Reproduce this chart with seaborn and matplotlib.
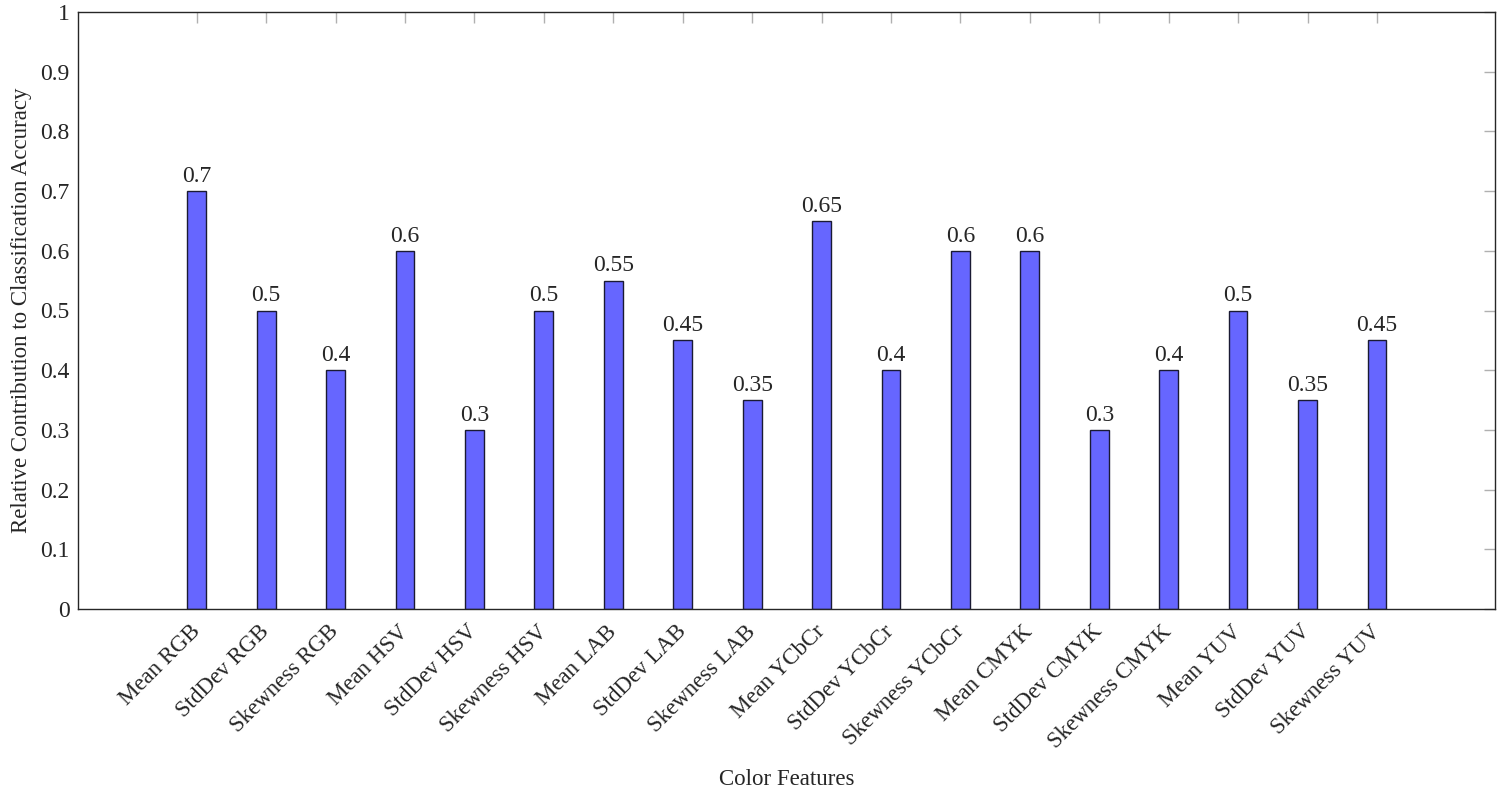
import matplotlib
matplotlib.use("Agg")
import matplotlib.pyplot as plt
import seaborn as sns
import pandas as pd

features = ['Mean RGB', 'StdDev RGB', 'Skewness RGB',
            'Mean HSV', 'StdDev HSV', 'Skewness HSV',
            'Mean LAB', 'StdDev LAB', 'Skewness LAB',
            'Mean YCbCr', 'StdDev YCbCr', 'Skewness YCbCr',
            'Mean CMYK', 'StdDev CMYK', 'Skewness CMYK',
            'Mean YUV', 'StdDev YUV', 'Skewness YUV']
contribution = [0.7, 0.5, 0.4,
                0.6, 0.3, 0.5,
                0.55, 0.45, 0.35,
                0.65, 0.4, 0.6,
                0.6, 0.3, 0.4,
                0.5, 0.35, 0.45]
labels = ['0.7', '0.5', '0.4', '0.6', '0.3', '0.5', '0.55', '0.45', '0.35',
          '0.65', '0.4', '0.6', '0.6', '0.3', '0.4', '0.5', '0.35', '0.45']
yticks = [0, 0.1, 0.2, 0.3, 0.4, 0.5, 0.6, 0.7, 0.8, 0.9, 1]
ytick_labels = ['0', '0.1', '0.2', '0.3', '0.4', '0.5', '0.6', '0.7', '0.8', '0.9', '1']

df = pd.DataFrame({'feature': features, 'value': contribution})

sns.set_style('white')
plt.rcParams['font.family'] = ['Liberation Serif', 'DejaVu Serif']

fig = plt.figure(figsize=(14.98, 7.88), dpi=100)
ax = fig.add_axes([78 / 1498, 1 - 609 / 788, (1495 - 78) / 1498, (609 - 12) / 788])

sns.barplot(data=df, x='feature', y='value', order=features, color='#6666ff',
            saturation=1, width=0.27, edgecolor='#1a1a33', linewidth=1.0, ax=ax)

for bar, lab in zip(ax.patches, labels):
    ax.annotate(lab, (bar.get_x() + bar.get_width() / 2, bar.get_height()),
                xytext=(0, 3), textcoords='offset points',
                ha='center', va='bottom', fontsize=17)

ax.set_xlim(-1.71, len(features) - 1 + 1.70)
ax.set_ylim(0, 1)
ax.set_yticks(yticks)
ax.set_yticklabels(ytick_labels, fontsize=17)
ax.set_xticks(range(len(features)))
ax.set_xticklabels(features, rotation=45, ha='right', va='center',
                   rotation_mode='anchor', fontsize=16.5)

ax.tick_params(axis='both', which='major', direction='in', length=8, width=1,
               color='#b0b0b0', top=True, right=True, pad=6)
ax.tick_params(axis='x', pad=14)
for s in ax.spines.values():
    s.set_color('#262626')
    s.set_linewidth(1.0)

ax.set_xlabel('Color Features', fontsize=16.5, labelpad=12)
ax.set_ylabel('Relative Contribution to Classification Accuracy', fontsize=16.5, labelpad=6)

fig.savefig('out.png', dpi=100)
